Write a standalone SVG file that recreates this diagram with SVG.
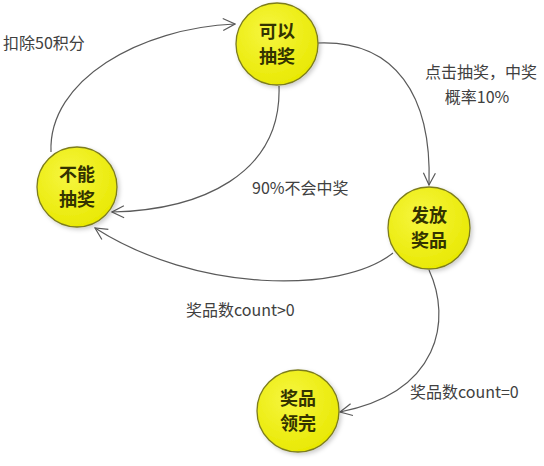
<svg xmlns="http://www.w3.org/2000/svg" width="544" height="466" viewBox="0 0 544 466">
<style>
.node circle{fill:url(#yg);stroke:#7d7d1e;stroke-width:1.3;filter:url(#sh)}
.node text{font-family:"Noto Sans CJK SC","Noto Sans",sans-serif;font-size:18px;font-weight:bold;fill:#333300;text-anchor:middle}
.edges path{fill:none;stroke:#5a5a5a;stroke-width:1.2}
.lbl{font-family:"Noto Sans CJK SC","Noto Sans",sans-serif;font-size:16px;fill:#404040}
</style>
<defs>
<radialGradient id="yg" cx="40%" cy="35%" r="70%">
<stop offset="0" stop-color="#f6f640"/>
<stop offset="1" stop-color="#e8e800"/>
</radialGradient>
<filter id="sh" x="-20%" y="-20%" width="150%" height="150%">
<feDropShadow dx="2" dy="2" stdDeviation="2" flood-color="#000" flood-opacity="0.2"/>
</filter>
<marker id="arr" viewBox="0 0 14 14" refX="13" refY="7" markerWidth="14" markerHeight="14" markerUnits="userSpaceOnUse" orient="auto">
<path d="M1,1 L13,7 L1,13" fill="none" stroke="#5a5a5a" stroke-width="1.2"/>
</marker>
</defs>
<g class="edges" id="edges">
<path d="M51,152 C48,80 140,28 235,24" marker-end="url(#arr)"/>
<path d="M279,86 C282,175 200,210 112,212" marker-end="url(#arr)"/>
<path d="M318,43 C395,40 432,95 429,185" marker-end="url(#arr)"/>
<path d="M393,253 C340,295 195,292 95,228" marker-end="url(#arr)"/>
<path d="M429,270 C452,320 440,392 340,412" marker-end="url(#arr)"/>
</g>
<g class="node" id="n_keyi"><circle cx="277" cy="44" r="41"/><text x="277" y="38">可以</text><text x="277" y="63">抽奖</text></g>
<g class="node" id="n_buneng"><circle cx="77" cy="187" r="40"/><text x="77" y="181">不能</text><text x="77" y="206">抽奖</text></g>
<g class="node" id="n_fafang"><circle cx="429" cy="228" r="41"/><text x="429" y="222">发放</text><text x="429" y="247">奖品</text></g>
<g class="node" id="n_lingwan"><circle cx="298" cy="411" r="41"/><text x="298" y="405">奖品</text><text x="298" y="430">领完</text></g>
<g id="labels">
<text class="lbl" x="3" y="49">扣除50积分</text>
<text class="lbl" x="481" y="78" text-anchor="middle">点击抽奖，中奖</text>
<text class="lbl" x="477" y="103" text-anchor="middle">概率10%</text>
<text class="lbl" x="252" y="194">90%不会中奖</text>
<text class="lbl" x="186" y="316">奖品数count&gt;0</text>
<text class="lbl" x="410" y="398">奖品数count=0</text>
</g>
</svg>
